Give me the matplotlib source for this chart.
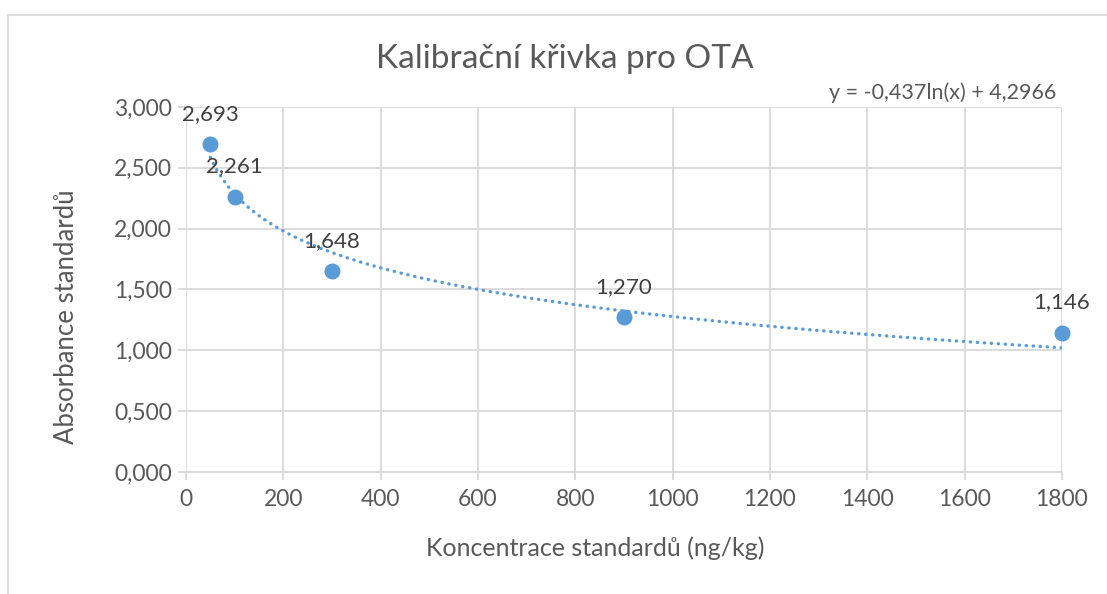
import numpy as np
import matplotlib
matplotlib.use("Agg")
import matplotlib.pyplot as plt
from matplotlib.patches import Rectangle
from matplotlib.ticker import FuncFormatter

# data
conc = [50, 100, 300, 900, 1800]
absorb = [2.693, 2.261, 1.648, 1.270, 1.146]
x_ticks = [0, 200, 400, 600, 800, 1000, 1200, 1400, 1600, 1800]
y_ticks = [0.0, 0.5, 1.0, 1.5, 2.0, 2.5, 3.0]

title = "Kalibrační křivka pro OTA"
x_label = "Koncentrace standardů (ng/kg)"
y_label = "Absorbance standardů"
equation = "y = -0,437ln(x) + 4,2966"

BLUE = "#5b9bd5"
GRID = "#d9d9d9"
TXT = "#595959"
W, H = 1107, 594

plt.rcParams["font.family"] = ["Lato", "DejaVu Sans"]

fig = plt.figure(figsize=(W / 100, H / 100), dpi=100)
ax = fig.add_axes([0.168, 0.2054, 0.7913, 0.6145])

# logarithmic trendline, fitted like Excel does
slope, icpt = np.polyfit(np.log(conc), absorb, 1)
xs = np.linspace(min(conc), max(conc), 400)
ax.plot(xs, slope * np.log(xs) + icpt, color=BLUE, lw=2.4,
        linestyle=(0, (0.1, 2.0)), dash_capstyle="round", zorder=3)

ax.plot(conc, absorb, "o", color=BLUE, ms=10.5, zorder=4, clip_on=False)
for x, y in zip(conc, absorb):
    ax.annotate(f"{y:.3f}".replace(".", ","), (x, y), xytext=(0, 22),
                textcoords="offset points", ha="center", va="center",
                fontsize=16, color="#404040", zorder=5)

ax.text(0.993, 1.04, equation, transform=ax.transAxes, ha="right", va="center",
        fontsize=15.5, color=TXT)

ax.set_xlim(0, 1800)
ax.set_ylim(0, 3.0)
ax.set_xticks(x_ticks)
ax.set_yticks(y_ticks)
ax.yaxis.set_major_formatter(FuncFormatter(lambda v, p: f"{v:.3f}".replace(".", ",")))
ax.grid(True, color=GRID, lw=1.3)
ax.set_axisbelow(True)
for s in ["top", "right", "left"]:
    ax.spines[s].set_visible(False)
ax.spines["bottom"].set_color(GRID)
ax.spines["bottom"].set_linewidth(1.3)
ax.tick_params(axis="x", colors=GRID, length=6, width=1.3, labelcolor=TXT,
               labelsize=16.5, pad=6)
ax.tick_params(axis="y", colors=GRID, length=6, width=1.3, labelcolor=TXT,
               labelsize=16.5, pad=4)

# Excel places the titles relative to the chart area
fig.text(595 / W, 1 - 548 / H, x_label, ha="center", va="center",
         fontsize=18, color=TXT)
fig.text(66 / W, 1 - 317 / H, y_label, ha="center", va="center",
         rotation=90, fontsize=18.5, color=TXT)
fig.text(565 / W, 1 - 59 / H, title, ha="center", va="center",
         fontsize=24, color=TXT)

# chart area border (Excel frame)
fig.patches.append(Rectangle((8 / W, -0.1), 1.2, 1 - 15 / H + 0.1,
                             transform=fig.transFigure, fill=False,
                             edgecolor=GRID, lw=1.3))

fig.savefig("out.png", dpi=100)
